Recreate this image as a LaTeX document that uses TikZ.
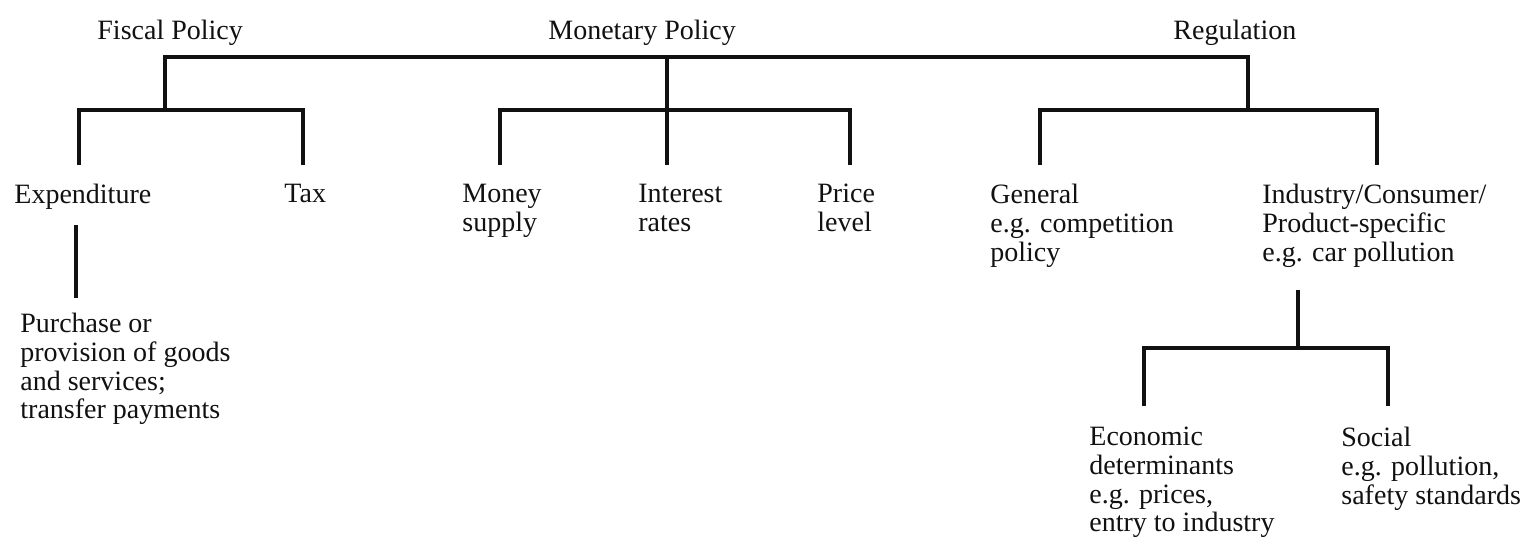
\documentclass[tikz,border=0pt]{standalone}
\usepackage{fontspec}
\setmainfont{Liberation Serif}
\usepackage{tikz}
\usetikzlibrary{positioning}
\definecolor{ink}{HTML}{111111}
\definecolor{paper}{HTML}{FFFFFF}
\tikzset{
  link/.style={draw=ink, line width=1.6pt, line join=miter},
  lab/.style={text=ink, font=\fontsize{14}{14.3}\selectfont, inner sep=0pt, anchor=north west, align=left},
}
\begin{document}
\begin{tikzpicture}[x=0.5pt, y=-0.5pt]
\useasboundingbox[fill=paper] (0,0) rectangle (1524,545);
% headings
\node[lab] (fiscal) at (97,20) {Fiscal Policy};
\node[lab] (monetary) at (548,20) {Monetary Policy};
\node[lab] (regul) at (1173,20) {Regulation};
% second level
\node[lab] (expend) at (14,184) {Expenditure};
\node[lab] (tax) at (284,184) {Tax};
\node[lab] (money) at (462,184) {Money\\supply};
\node[lab] (interest) at (638,184) {Interest\\rates};
\node[lab] (price) at (817,184) {Price\\level};
\node[lab] (general) at (990,184) {General\\e.g. competition\\policy};
\node[lab] (industry) at (1262,184) {Industry/Consumer/\\Product-specific\\e.g. car pollution};
% third level
\node[lab] (purchase) at (20,313) {Purchase or\\provision of goods\\and services;\\transfer payments};
\node[lab] (economic) at (1089,427) {Economic\\determinants\\e.g. prices,\\entry to industry};
\node[lab] (social) at (1341,427) {Social\\e.g. pollution,\\safety standards};
% junctions
\coordinate (ftop) at (165,57);
\coordinate (fbar) at (165,110);
\coordinate (mtop) at (667,57);
\coordinate (mbar) at (667,110);
\coordinate (rtop) at (1248,57);
\coordinate (rbar) at (1248,110);
\coordinate (expend-in) at (79,165);
\coordinate (tax-in) at (303,165);
\coordinate (money-in) at (500,165);
\coordinate (interest-in) at (667,165);
\coordinate (price-in) at (850,165);
\coordinate (general-in) at (1040,165);
\coordinate (industry-in) at (1377,165);
\coordinate (expend-out) at (76,225);
\coordinate (purchase-in) at (76,298);
\coordinate (industry-out) at (1298,290);
\coordinate (ibar) at (1298,348);
\coordinate (economic-in) at (1144,406);
\coordinate (social-in) at (1388,406);
% connectors
\draw[link] (fbar) -- (ftop) -- (rtop) -- (rbar);
\draw[link] (mtop) -- (interest-in);
\draw[link] (expend-in) |- (fbar) -| (tax-in);
\draw[link] (money-in) |- (mbar) -| (price-in);
\draw[link] (general-in) |- (rbar) -| (industry-in);
\draw[link] (expend-out) -- (purchase-in);
\draw[link] (industry-out) -- (ibar);
\draw[link] (economic-in) |- (ibar) -| (social-in);
\end{tikzpicture}
\end{document}
